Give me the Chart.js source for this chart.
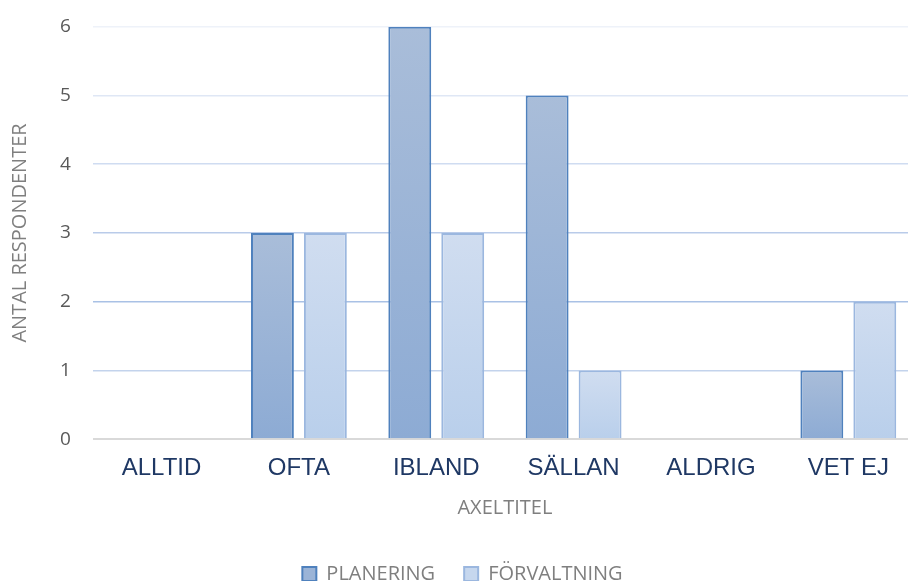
<!DOCTYPE html>
<html>
<head>
<meta charset="utf-8">
<script src="https://cdn.jsdelivr.net/npm/chart.js@4/dist/chart.umd.min.js"></script>
<style>
html,body{margin:0;padding:0;background:#fff;overflow:hidden;}
#wrap{width:942px;height:581px;position:relative;}
</style>
</head>
<body>
<div id="wrap"><canvas id="c"></canvas></div>
<script>
const categories = ["ALLTID", "OFTA", "IBLAND", "SÄLLAN", "ALDRIG", "VET EJ"];
const planering = [0, 3, 6, 5, 0, 1];
const forvaltning = [0, 3, 3, 1, 0, 2];
const seriesNames = ["PLANERING", "FÖRVALTNING"];
const yTicks = [0, 1, 2, 3, 4, 5, 6];

function barGradient(ctx, top, bottom) {
  const chart = ctx.chart;
  const area = chart.chartArea;
  if (!area || ctx.type !== 'data') return bottom;
  const ys = chart.scales.y;
  const v = ctx.raw || 0;
  const y0 = ys.getPixelForValue(0);
  const y1 = ys.getPixelForValue(v);
  if (Math.abs(y0 - y1) < 1) return bottom;
  const g = chart.ctx.createLinearGradient(0, y1, 0, y0);
  g.addColorStop(0, top);
  g.addColorStop(1, bottom);
  return g;
}

const gridColors = ['#d9d9d9', '#c3d3ec', '#a9c1e5', '#b9cbe9', '#cfdcf1', '#dfe7f5', '#eef2f9'];

new Chart(document.getElementById('c'), {
  type: 'bar',
  data: {
    labels: categories,
    datasets: [
      {
        label: seriesNames[0],
        data: planering,
        backgroundColor: (ctx) => barGradient(ctx, '#a9bdd9', '#8dabd4'),
        borderColor: '#4f81bd',
        borderWidth: 2,
        categoryPercentage: 0.771,
        barPercentage: 0.81
      },
      {
        label: seriesNames[1],
        data: forvaltning,
        backgroundColor: (ctx) => barGradient(ctx, '#d0ddf0', '#b9cfeb'),
        borderColor: '#9bb7df',
        borderWidth: 2,
        categoryPercentage: 0.771,
        barPercentage: 0.81
      }
    ]
  },
  options: {
    responsive: true,
    maintainAspectRatio: false,
    animation: false,
    layout: { padding: { top: 0, right: 25, left: 8, bottom: -13 } },
    plugins: {
      tooltip: { enabled: false },
      legend: {
        position: 'bottom',
        labels: {
          font: { family: 'Open Sans', size: 20 },
          color: '#7f7f7f',
          boxWidth: 14,
          boxHeight: 14,
          padding: 29,
          useBorderRadius: false,
          generateLabels: (chart) => chart.data.datasets.map((ds, i) => ({
            text: ds.label,
            fillStyle: i === 0 ? '#9bb4d7' : '#c6d7ee',
            strokeStyle: ds.borderColor,
            lineWidth: 2,
            fontColor: '#7f7f7f',
            datasetIndex: i
          }))
        }
      }
    },
    scales: {
      x: {
        grid: { display: false, drawTicks: false },
        border: { display: false },
        ticks: {
          font: { family: 'Liberation Sans', size: 24 },
          color: '#1f3864',
          padding: 15
        },
        title: {
          display: true,
          text: 'AXELTITEL',
          font: { family: 'Open Sans', size: 20, lineHeight: 1 },
          color: '#7f7f7f',
          padding: { top: 0, bottom: 17 }
        }
      },
      y: {
        min: 0,
        max: 6,
        afterBuildTicks: (axis) => { axis.ticks = yTicks.map(v => ({ value: v })); },
        grid: {
          color: (ctx) => gridColors[ctx.index] || '#d9d9d9',
          lineWidth: (ctx) => ctx.index === 0 ? 2 : 1.5,
          drawTicks: false
        },
        border: { display: false },
        ticks: {
          font: { family: 'Open Sans', size: 19, lineHeight: 0.5 },
          color: '#595959',
          padding: 22
        },
        title: {
          display: true,
          text: 'ANTAL RESPONDENTER',
          font: { family: 'Open Sans', size: 20 },
          color: '#7f7f7f',
          padding: { top: 0, bottom: 6 }
        }
      }
    }
  }
});
</script>
</body>
</html>
